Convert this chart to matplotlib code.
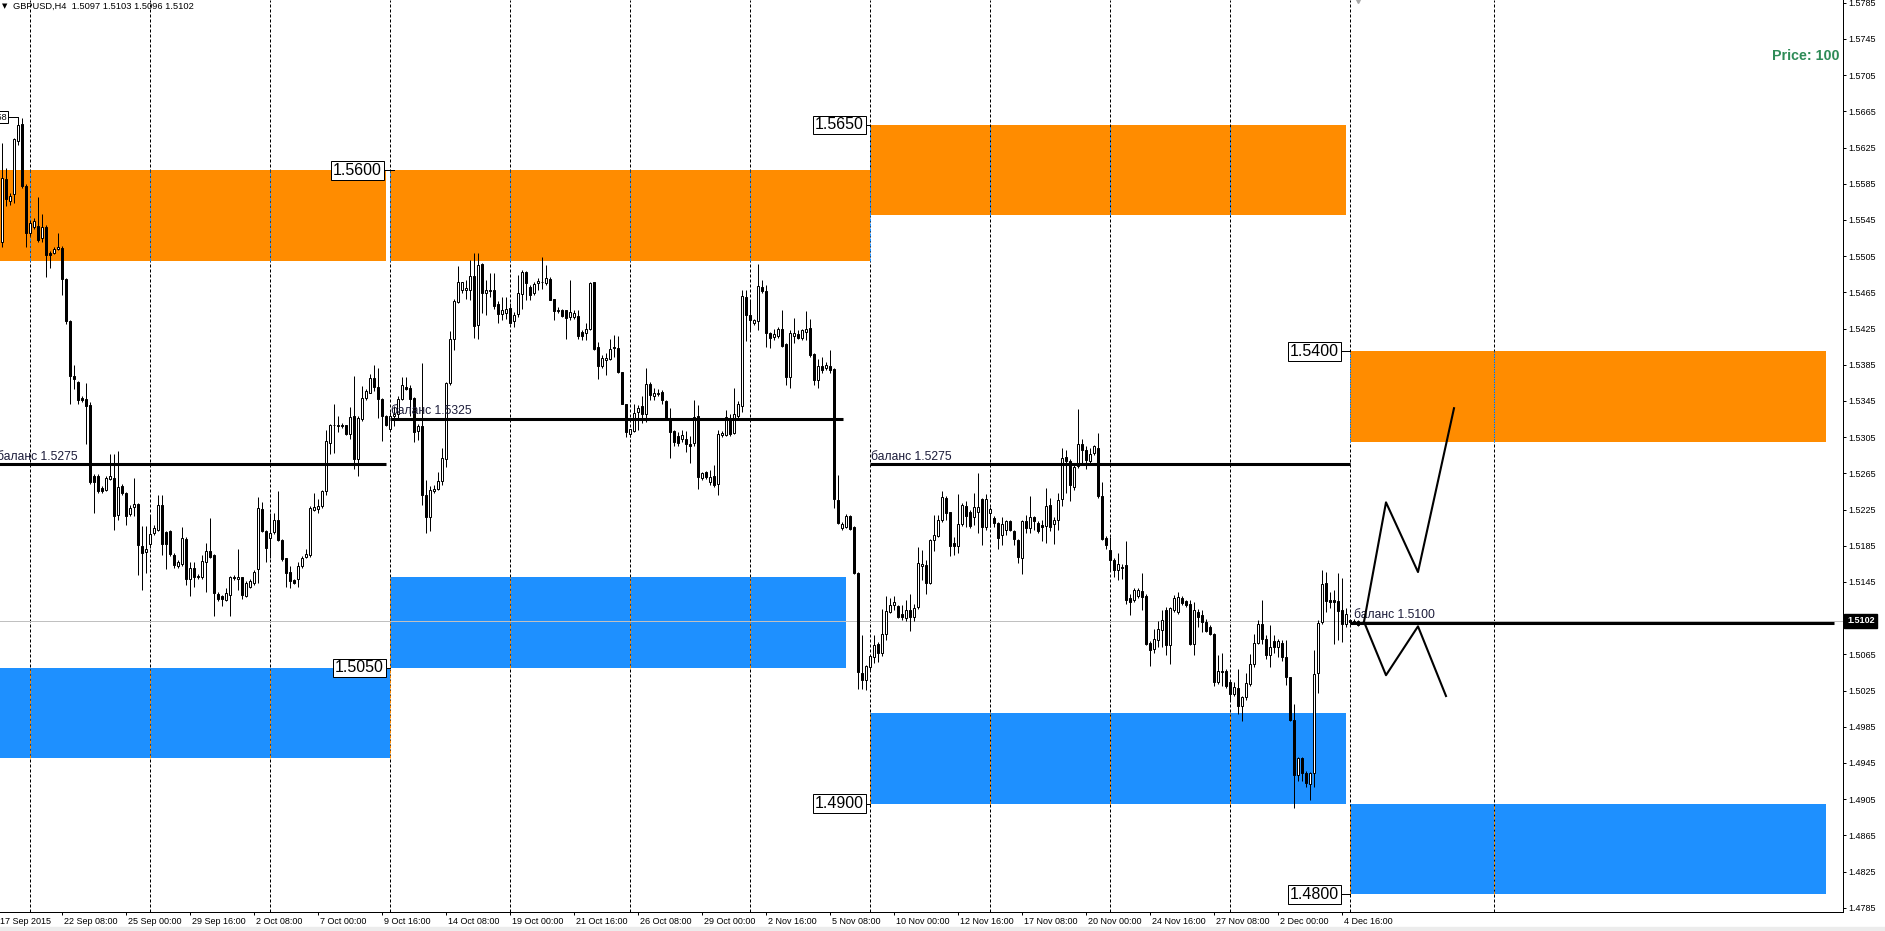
import numpy as np
import matplotlib.pyplot as plt
from matplotlib.patches import Rectangle
from matplotlib.transforms import blended_transform_factory, offset_copy

plt.rcParams['font.family'] = ['Liberation Sans', 'DejaVu Sans']

# GBPUSD H4 candles, in points above 1.5000 (one bar every 4 hours)
o_pts = [521, 590, 566, 574, 632, 651, 583, 531, 537, 538,
         525, 537, 509, 509, 513, 514, 480, 433, 373, 366,
         348, 347, 341, 262, 262, 249, 247, 259, 260, 219,
         251, 243, 220, 228, 231, 185, 178, 187, 199, 203,
         230, 200, 201, 175, 163, 165, 193, 148, 161, 152,
         150, 167, 179, 175, 132, 129, 125, 131, 151, 148,
         150, 130, 140, 144, 159, 226, 201, 194, 200, 214,
         191, 171, 156, 147, 148, 163, 173, 175, 225, 226,
         229, 245, 299, 318, 317, 319, 318, 308, 328, 281,
         325, 348, 354, 370, 360, 347, 328, 314, 328, 331,
         347, 361, 359, 348, 312, 317, 241, 217, 245, 248,
         257, 281, 365, 414, 454, 468, 468, 468, 483, 429,
         496, 464, 467, 468, 452, 441, 442, 448, 433, 441,
         463, 487, 471, 464, 475, 476, 475, 480, 458, 444,
         446, 445, 438, 438, 439, 421, 420, 425, 476, 405,
         384, 390, 391, 405, 404, 377, 342, 308, 312, 333,
         339, 331, 364, 351, 353, 355, 345, 326, 312, 306,
         303, 303, 298, 299, 328, 260, 267, 255, 262, 253,
         307, 307, 326, 310, 328, 339, 460, 440, 431, 433,
         471, 467, 420, 416, 417, 424, 408, 372, 417, 419,
         415, 421, 426, 397, 368, 384, 381, 384, 380, 236,
         205, 206, 218, 206, 155, 44, 37, 51, 62, 76,
         67, 88, 112, 120, 118, 110, 105, 114, 106, 117,
         163, 164, 144, 191, 196, 214, 238, 222, 188, 185,
         209, 229, 222, 217, 222, 237, 206, 221, 216, 210,
         197, 203, 212, 201, 191, 171, 212, 205, 217, 210,
         208, 207, 230, 209, 213, 237, 283, 279, 250, 273,
         297, 291, 279, 287, 293, 240, 194, 180, 169, 158,
         160, 164, 127, 125, 129, 135, 130, 78, 71, 81,
         92, 114, 75, 114, 112, 127, 124, 121, 77, 112,
         108, 101, 95, 88, 34, 47, 47, 34, 21, 28,
         8, 18, 32, 54, 78, 99, 82, 64, 80, 73,
         78, 62, 40, -8, -68, -49, -66, -78, -66, 44,
         101, 144, 125, 125, 124, 114, 99, 103, 102, 97]
h_pts = [630, 603, 575, 636, 659, 658, 585, 545, 547, 570,
         552, 539, 511, 515, 531, 516, 481, 434, 385, 367,
         350, 365, 344, 264, 264, 251, 262, 286, 286, 290,
         253, 244, 230, 260, 232, 207, 207, 218, 208, 241,
         241, 201, 203, 177, 169, 206, 195, 167, 167, 154,
         175, 188, 216, 176, 134, 131, 138, 152, 153, 181,
         151, 146, 148, 158, 239, 233, 202, 221, 221, 246,
         192, 172, 163, 148, 167, 174, 181, 229, 243, 237,
         247, 313, 320, 342, 328, 321, 319, 338, 373, 328,
         362, 358, 375, 385, 381, 348, 330, 333, 339, 350,
         372, 372, 363, 349, 320, 387, 258, 251, 252, 267,
         293, 366, 422, 458, 494, 477, 479, 501, 508, 508,
         497, 479, 486, 486, 455, 460, 460, 453, 443, 484,
         490, 489, 473, 477, 481, 504, 495, 482, 458, 449,
         447, 446, 479, 445, 446, 423, 431, 477, 477, 410,
         396, 398, 414, 418, 417, 377, 342, 314, 342, 341,
         350, 381, 366, 359, 358, 357, 346, 337, 313, 311,
         313, 312, 306, 346, 341, 267, 268, 269, 274, 313,
         312, 335, 331, 359, 345, 468, 468, 457, 436, 496,
         479, 473, 421, 425, 427, 445, 409, 423, 437, 423,
         424, 444, 436, 398, 391, 394, 388, 401, 381, 263,
         211, 220, 219, 207, 156, 86, 53, 64, 86, 79,
         115, 129, 127, 129, 120, 120, 125, 132, 121, 184,
         180, 169, 193, 219, 219, 245, 240, 222, 195, 242,
         232, 234, 225, 243, 265, 238, 242, 228, 218, 211,
         217, 214, 214, 203, 192, 214, 219, 240, 218, 212,
         214, 249, 238, 217, 243, 293, 291, 281, 277, 336,
         303, 295, 293, 296, 310, 255, 196, 195, 172, 177,
         165, 190, 132, 138, 138, 155, 132, 80, 93, 102,
         114, 117, 117, 131, 134, 129, 125, 125, 123, 115,
         114, 104, 97, 89, 64, 66, 49, 36, 34, 49,
         19, 44, 65, 88, 103, 125, 86, 97, 86, 82,
         81, 81, 40, 10, -48, -48, -64, -65, 70, 103,
         158, 156, 134, 136, 155, 149, 116, 104, 104, 103]
l_pts = [515, 560, 562, 564, 628, 580, 515, 527, 535, 521,
         521, 482, 492, 507, 512, 462, 430, 342, 358, 342,
         344, 297, 253, 221, 243, 243, 245, 258, 202, 214,
         241, 208, 218, 218, 153, 136, 155, 183, 197, 201,
         175, 159, 174, 161, 161, 163, 142, 130, 140, 148,
         148, 134, 171, 107, 124, 118, 124, 107, 147, 136,
         126, 128, 138, 142, 144, 200, 167, 171, 198, 190,
         168, 140, 138, 143, 140, 161, 171, 173, 223, 221,
         227, 241, 286, 288, 311, 315, 307, 303, 270, 262,
         323, 346, 354, 356, 326, 301, 317, 312, 317, 324,
         346, 357, 328, 300, 302, 230, 199, 201, 243, 247,
         252, 272, 363, 401, 453, 464, 458, 457, 415, 414,
         442, 440, 460, 447, 431, 434, 436, 430, 427, 438,
         447, 457, 457, 462, 468, 469, 473, 457, 435, 442,
         438, 414, 434, 436, 413, 412, 412, 423, 401, 369,
         382, 374, 390, 394, 376, 342, 305, 305, 311, 313,
         321, 322, 346, 346, 350, 342, 325, 282, 295, 295,
         300, 289, 276, 295, 248, 258, 259, 252, 250, 241,
         305, 306, 306, 309, 326, 333, 411, 423, 429, 423,
         464, 405, 404, 412, 415, 405, 363, 359, 409, 414,
         412, 412, 394, 363, 359, 376, 379, 376, 227, 209,
         203, 205, 203, 154, 27, 27, 26, 48, 56, 57,
         63, 81, 111, 114, 105, 103, 102, 91, 102, 115,
         147, 132, 143, 179, 195, 211, 214, 174, 175, 177,
         207, 206, 205, 208, 199, 186, 203, 206, 206, 182,
         186, 197, 201, 186, 166, 154, 199, 199, 203, 199,
         190, 188, 201, 187, 202, 229, 243, 234, 247, 271,
         275, 270, 277, 285, 238, 191, 182, 158, 150, 147,
         148, 121, 108, 123, 127, 114, 75, 52, 67, 73,
         73, 64, 54, 112, 110, 120, 117, 75, 64, 95,
         90, 90, 86, 30, 32, 30, 28, 14, 19, -1,
         -9, 15, 30, 51, 76, 77, 60, 51, 67, 62,
         58, 31, -9, -105, -75, -75, -81, -96, -81, 22,
         99, 112, 116, 77, 81, 79, 95, 99, 99, 96]
c_pts = [591, 568, 572, 634, 650, 583, 531, 542, 544, 523,
         537, 506, 506, 513, 515, 480, 433, 373, 369, 346,
         346, 340, 256, 255, 245, 245, 260, 262, 218, 250,
         243, 218, 227, 231, 186, 177, 181, 198, 205, 230,
         187, 187, 176, 164, 167, 194, 148, 160, 150, 150,
         168, 179, 173, 133, 126, 126, 133, 151, 149, 150,
         131, 144, 146, 156, 227, 201, 183, 199, 214, 191,
         170, 155, 146, 144, 163, 172, 176, 227, 228, 229,
         245, 301, 319, 319, 319, 317, 309, 327, 281, 326,
         348, 356, 370, 360, 347, 328, 319, 328, 331, 347,
         363, 358, 347, 311, 317, 241, 217, 247, 248, 257,
         282, 365, 413, 455, 476, 476, 470, 483, 428, 495,
         464, 468, 468, 450, 441, 446, 447, 431, 440, 464,
         487, 475, 462, 474, 478, 477, 481, 457, 444, 446,
         439, 437, 443, 442, 417, 417, 425, 475, 402, 384,
         393, 392, 403, 404, 377, 342, 311, 314, 332, 337,
         331, 364, 352, 354, 354, 346, 326, 311, 300, 299,
         307, 298, 295, 327, 261, 265, 261, 261, 252, 309,
         310, 327, 309, 331, 342, 461, 440, 434, 434, 472,
         467, 420, 415, 419, 425, 406, 372, 420, 420, 415,
         423, 425, 396, 368, 384, 379, 385, 379, 237, 210,
         209, 218, 204, 155, 45, 37, 52, 63, 75, 67,
         88, 113, 120, 123, 106, 106, 114, 106, 116, 166,
         165, 144, 191, 197, 214, 239, 221, 185, 185, 209,
         230, 218, 207, 228, 228, 206, 237, 226, 210, 194,
         209, 212, 203, 192, 173, 212, 205, 217, 212, 201,
         206, 229, 206, 213, 236, 282, 279, 252, 272, 297,
         291, 280, 286, 295, 240, 193, 186, 169, 158, 165,
         162, 125, 123, 136, 136, 128, 77, 70, 82, 93,
         103, 75, 116, 127, 128, 122, 120, 77, 114, 106,
         101, 91, 88, 34, 47, 45, 30, 21, 29, 8,
         18, 33, 54, 78, 99, 82, 64, 73, 73, 80,
         62, 40, -7, -68, -50, -66, -77, -66, 43, 100,
         143, 124, 123, 123, 113, 99, 110, 101, 101, 102]

# zones (bar index from/to, price from/to)
zone_t0 = [-1, 97, 217, 337, -1, 97, 217, 337]
zone_t1 = [96, 217, 336, 456, 97, 211, 336, 456]
zone_lo = [1.5500, 1.5500, 1.5550, 1.5300, 1.4950, 1.5050, 1.4900, 1.4800]
zone_hi = [1.5600, 1.5600, 1.5650, 1.5400, 1.5050, 1.5150, 1.5000, 1.4900]
zone_sell = [True, True, True, True, False, False, False, False]

# "баланс" lines
bal_price = [1.5275, 1.5325, 1.5275, 1.5100]
bal_t0 = [-1, 97, 217, 337]
bal_t1 = [96, 210.25, 337, 458]
bal_text_t = [-1.3, 97.2, 217.2, 338]

# price labels
box_price = [1.5600, 1.5050, 1.5650, 1.4900, 1.5400, 1.4800]
box_t = [95.5, 96, 216, 216, 334.75, 334.75]
box_line_t = [98, 97, 217, 217, 337, 337]

# projected paths
zz_up_t = [340.5, 346, 354, 363]
zz_up_p = [1.5101, 1.5233, 1.5156, 1.5337]
zz_dn_t = [340.5, 346, 354, 361]
zz_dn_p = [1.5101, 1.5042, 1.5096, 1.5019]

grid_t = [7, 37, 67, 97, 127, 157, 187, 217, 247, 277, 307, 337, 373]
date_t = [-1, 15, 31, 47, 63, 79, 95, 111, 127, 143, 159, 175, 191, 207,
          223, 239, 255, 271, 287, 303, 319, 335]
date_labels = ['17 Sep 2015', '22 Sep 08:00', '25 Sep 00:00', '29 Sep 16:00',
               '2 Oct 08:00', '7 Oct 00:00', '9 Oct 16:00', '14 Oct 08:00',
               '19 Oct 00:00', '21 Oct 16:00', '26 Oct 08:00', '29 Oct 00:00',
               '2 Nov 16:00', '5 Nov 08:00', '10 Nov 00:00', '12 Nov 16:00',
               '17 Nov 08:00', '20 Nov 00:00', '24 Nov 16:00', '27 Nov 08:00',
               '2 Dec 00:00', '4 Dec 16:00']
price_ticks = ['1.5785', '1.5745', '1.5705', '1.5665', '1.5625', '1.5585',
               '1.5545', '1.5505', '1.5465', '1.5425', '1.5385', '1.5345',
               '1.5305', '1.5265', '1.5225', '1.5185', '1.5145', '1.5065',
               '1.5025', '1.4985', '1.4945', '1.4905', '1.4865', '1.4825',
               '1.4785']
last_price = 1.5102

ORANGE = '#ff8c00'
BLUE = '#1e90ff'
LW = 0.72  # one pixel

W, H = 1885, 931
fig = plt.figure(figsize=(W / 100, H / 100), dpi=100)
fig.patches.append(Rectangle((0, 0), 1, 4 / H, transform=fig.transFigure,
                             color='#ececec', zorder=0))
ax = fig.add_axes([0, 19 / H, 1843 / W, 912 / H])
ax.set_xlim(-0.5, 460.25)
ax.set_ylim(1.478035, 1.578809)

# zones
for t0, t1, lo, hi, sell in zip(zone_t0, zone_t1, zone_lo, zone_hi, zone_sell):
    ax.add_patch(Rectangle((t0, lo), t1 - t0, hi - lo, lw=0,
                           color=ORANGE if sell else BLUE, zorder=1))

# weekly grid, inverted colour over the zones
for g in grid_t:
    ax.axvline(g, color='black', lw=LW, ls=(0, (3, 2)), zorder=2)
    for t0, t1, lo, hi, sell in zip(zone_t0, zone_t1, zone_lo, zone_hi, zone_sell):
        if t0 <= g <= t1:
            ax.vlines(g, lo, hi, color=BLUE if sell else ORANGE, lw=LW,
                      ls=(0, (3, 2)), zorder=2.1)

ax.axhline(last_price, color='#c0c0c0', lw=LW, zorder=2.5)

# candles
o = 1.5 + np.array(o_pts) / 1e4
h = 1.5 + np.array(h_pts) / 1e4
l = 1.5 + np.array(l_pts) / 1e4
c = 1.5 + np.array(c_pts) / 1e4
x = np.arange(len(c))
hi_ = np.maximum(h, np.maximum(o, c))
lo_ = np.minimum(l, np.minimum(o, c))
ax.vlines(x, lo_, hi_, color='black', lw=LW, zorder=3)
up = c >= o
bot = np.minimum(o, c)
hgt = np.maximum(np.abs(c - o), 0.00004)
ax.bar(x[up], hgt[up], bottom=bot[up], width=0.5, color='white',
       edgecolor='black', lw=LW, zorder=3.1)
ax.bar(x[~up], hgt[~up], bottom=bot[~up], width=0.5, color='black',
       edgecolor='black', lw=LW, zorder=3.1)

# balance lines
for p, t0, t1, tt in zip(bal_price, bal_t0, bal_t1, bal_text_t):
    ax.plot([t0, t1], [p, p], color='black', lw=2.2, solid_capstyle='butt',
            zorder=4)
    ax.annotate(f'баланс {p:.4f}', (tt, p), xytext=(0, 3.4),
                textcoords='offset points', fontsize=8.7, color='#1c1c3a',
                va='baseline', ha='left', zorder=4, annotation_clip=False)

# projections
ax.plot(zz_up_t, zz_up_p, color='black', lw=1.5, zorder=4)
ax.plot(zz_dn_t, zz_dn_p, color='black', lw=1.5, zorder=4)

# price labels
for p, t, tl in zip(box_price, box_t, box_line_t):
    ax.plot([t, tl], [p, p], color='black', lw=LW, zorder=5)
    ax.text(t - 0.5, p, f'{p:.4f}', ha='right', va='center', fontsize=11.5,
            zorder=6, bbox=dict(boxstyle='square,pad=0.12', fc='white',
                                ec='black', lw=LW))

# label pointing at the early high (mostly off the left edge, as in the terminal)
ax.plot([1.4, 4, 4], [1.56588, 1.56588, 1.5650], color='black', lw=LW,
        zorder=5)
ax.text(1.2, 1.56588, '1.5658', ha='right', va='center', fontsize=6.5,
        zorder=6, bbox=dict(boxstyle='square,pad=0.15', fc='white',
                            ec='black', lw=LW))

# chart shift marker
ax.plot([339], [1.0], marker='v', ms=4, color='#a8a8a8', clip_on=False,
        transform=blended_transform_factory(ax.transData, ax.transAxes),
        zorder=7)

# axes
for s in ['left', 'top']:
    ax.spines[s].set_visible(False)
for s in ['right', 'bottom']:
    ax.spines[s].set_linewidth(LW)
ax.set_yticks([float(v) for v in price_ticks])
ax.set_yticklabels(price_ticks)
ax.tick_params(axis='y', left=False, right=True, labelleft=False,
               labelright=True, length=2.2, width=LW, pad=1.5, labelsize=6.5)
ax.set_xticks(date_t[1:])
ax.tick_params(axis='x', length=2.2, width=LW, labelbottom=False)
tr = offset_copy(blended_transform_factory(ax.transData, ax.transAxes),
                 fig=fig, x=2, y=-10, units='dots')
for t, s in zip(date_t, date_labels):
    ax.text(t, 0, s, transform=tr, ha='left', va='center', fontsize=6.5,
            clip_on=False)

tr2 = offset_copy(blended_transform_factory(ax.transAxes, ax.transData),
                  fig=fig, x=4, units='dots')
ax.text(1.0, last_price, f'{last_price:.4f}', transform=tr2, ha='left',
        va='center', fontsize=6.5, fontweight='bold', color='white',
        clip_on=False, zorder=7,
        bbox=dict(boxstyle='square,pad=0.3', fc='black', ec='black'))

fig.text(1839 / W, 1 - 56 / H, 'Price: 100', ha='right', va='center',
         fontsize=10.3, fontweight='bold', color='#2e8b57')
fig.text(2 / W, 1 - 6 / H, '▼', ha='left', va='center', fontsize=5,
         family='DejaVu Sans')
fig.text(13 / W, 1 - 6 / H, 'GBPUSD,H4  1.5097 1.5103 1.5096 1.5102',
         ha='left', va='center', fontsize=6.7)

plt.savefig('out.png', dpi=100)
